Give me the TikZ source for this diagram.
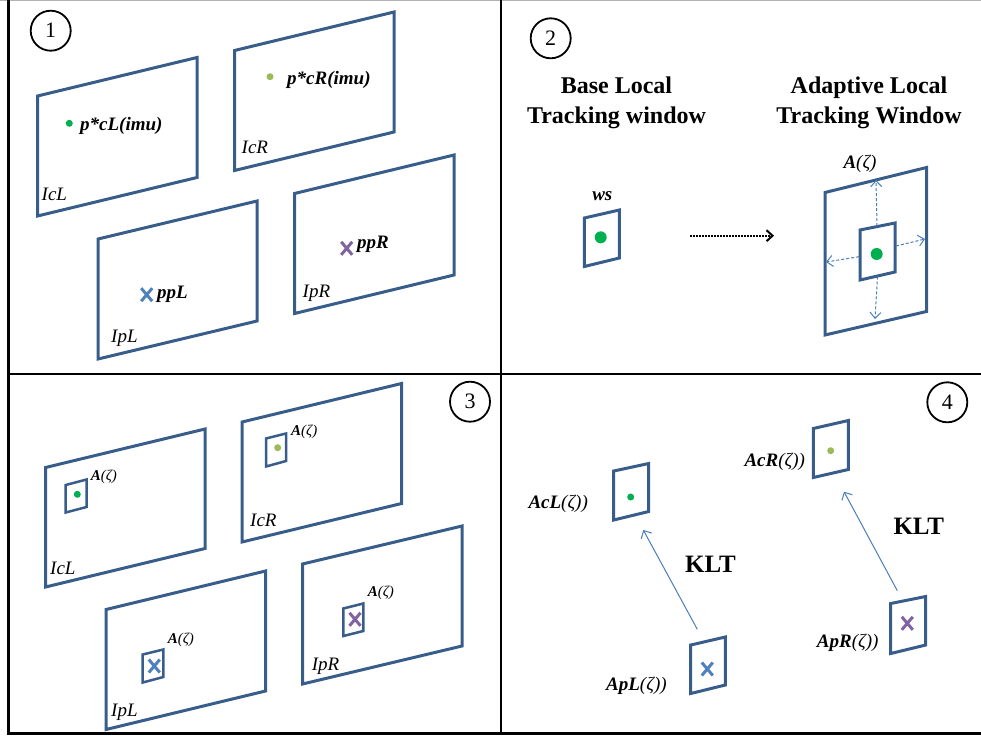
\documentclass[tikz,border=0pt]{standalone}
\usepackage{fontspec}
\setmainfont{Liberation Serif}
\usetikzlibrary{arrows.meta, shapes.misc}

\definecolor{framecol}{RGB}{56,93,138}
\definecolor{dotgreen}{RGB}{0,176,80}
\definecolor{dotlime}{RGB}{155,187,89}
\definecolor{crossblue}{RGB}{79,129,189}
\definecolor{crosspurple}{RGB}{128,100,162}
\definecolor{arrowblue}{RGB}{74,126,187}

\begin{document}
\begin{tikzpicture}[x=1pt,y=1pt]
\tikzstyle{every node}+=[inner sep=0pt]
\tikzstyle{frame}=[framecol, line width=3pt]
\tikzstyle{smallframe}=[framecol, line width=2.5pt]
\tikzstyle{panel}=[black, line width=2.8pt]
\tikzstyle{badge}=[circle, draw, line width=1.8pt, minimum size=40pt, font=\fontsize{22}{22}\selectfont]
\tikzstyle{imglbl}=[anchor=base west, font=\fontsize{19}{19}\selectfont\itshape]
\tikzstyle{ptlbl}=[anchor=base west, font=\fontsize{19}{19}\selectfont\bfseries\itshape]
\tikzstyle{winlbl}=[anchor=base west, font=\fontsize{15}{15}\selectfont\itshape]
\tikzstyle{patchlbl}=[anchor=base west, font=\fontsize{19}{19}\selectfont\itshape]
\tikzstyle{heading}=[align=center, font=\fontsize{24}{30}\selectfont\bfseries]
\tikzstyle{dot}=[circle, minimum size=7pt]
\tikzstyle{bigdot}=[circle, minimum size=12pt]
\tikzstyle{xmark}=[cross out, draw, line width=3pt, minimum width=8pt, minimum height=10pt]
\tikzstyle{growarrow}=[arrowblue, line width=1pt, dash pattern=on 3pt off 2pt, -{Straight Barb[length=6pt,width=11pt]}]
\tikzstyle{kltarrow}=[arrowblue, line width=1pt, -{Straight Barb[length=6pt,width=12pt]}]
\useasboundingbox (0,0) rectangle (981,-737);

% panel borders
\draw [gray!60, line width=1pt] (0,-0.5) -- (981,-0.5);
\draw [panel] (8.5,0) -- (8.5,-733.5) -- (981,-733.5);
\draw [panel] (501,0) -- (501,-733.5);
\draw [panel] (8.5,-374) -- (981,-374);

% panel 1
\node [badge] (num1) at (50.7,-30.7) {1};
\draw [frame] (37.5,-96) -- (197,-57.5) -- (197,-177.5) -- (37.5,-216) -- cycle;
\draw [frame] (234.5,-50.5) -- (394,-12) -- (394,-132) -- (234.5,-170.5) -- cycle;
\draw [frame] (98,-239) -- (257,-201) -- (257,-321) -- (98,-359) -- cycle;
\draw [frame] (294.5,-193.5) -- (454,-155) -- (454,-275) -- (294.5,-313.5) -- cycle;
\node [imglbl] (icl1) at (41.5,-200) {IcL};
\node [imglbl] (icr1) at (241.5,-153.5) {IcR};
\node [imglbl] (ipl1) at (111,-342.5) {IpL};
\node [imglbl] (ipr1) at (302.5,-297.5) {IpR};
\node [dot, fill=dotgreen] (pcl) at (69.3,-123.3) {};
\node [ptlbl] (pcllbl) at (80,-130) {p*cL(imu)};
\node [dot, fill=dotlime] (pcr) at (270,-76.7) {};
\node [ptlbl] (pcrlbl) at (287,-84) {p*cR(imu)};
\node [xmark, crossblue] (ppl) at (146.7,-294.7) {};
\node [ptlbl] (ppllbl) at (157,-298.3) {ppL};
\node [xmark, crosspurple] (ppr) at (346.7,-248.3) {};
\node [ptlbl] (pprlbl) at (357,-248.3) {ppR};

% panel 2
\node [badge] (num2) at (550.7,-38.3) {2};
\node [heading] (basehead) at (616.5,-103) {Base Local\\Tracking window};
\node [heading] (adapthead) at (869,-103) {Adaptive Local\\Tracking Window};
\draw [frame] (584.3,-218) -- (619.3,-210) -- (619.3,-258) -- (584.3,-266.5) -- cycle;
\node [ptlbl, anchor=base] (wslbl) at (602.3,-200) {ws};
\node [bigdot, fill=dotgreen] (basedot) at (600.7,-237.3) {};
\coordinate (growstart) at (690,-235.7);
\coordinate (growend) at (774,-235.7);
\draw [black, line width=2pt, dash pattern=on 1.5pt off 1.5pt, -{Straight Barb[length=6pt,width=11pt,line width=2pt]}] (growstart) -- (growend);
\draw [frame] (825,-192.5) -- (926.5,-167.5) -- (926.5,-311.5) -- (825,-335) -- cycle;
\draw [frame] (860,-230) -- (895,-223) -- (895,-272) -- (860,-280) -- cycle;
\node [ptlbl] (adaptlbl) at (843.3,-168.3) {A\mdseries(ζ)};
\node [bigdot, fill=dotgreen] (adaptdot) at (876.7,-254) {};
\coordinate (innertop) at (877,-226);
\coordinate (innerbot) at (877.5,-276.5);
\coordinate (innerleft) at (859,-256.7);
\coordinate (innerright) at (896,-246);
\coordinate (outertop) at (876,-180);
\coordinate (outerbot) at (875,-319);
\coordinate (outerleft) at (826,-262);
\coordinate (outerright) at (925,-239);
\draw [growarrow] (innertop) -- (outertop);
\draw [growarrow] (innerbot) -- (outerbot);
\draw [growarrow] (innerleft) -- (outerleft);
\draw [growarrow] (innerright) -- (outerright);

% panel 3
\node [badge] (num3) at (470,-401.7) {3};
\draw [frame] (45.5,-467.5) -- (205,-429) -- (205,-548.5) -- (45.5,-587) -- cycle;
\draw [frame] (242,-422) -- (401.5,-383.5) -- (401.5,-503.5) -- (242,-542) -- cycle;
\draw [frame] (106,-609.5) -- (265.5,-571) -- (265.5,-691) -- (106,-729.5) -- cycle;
\draw [frame] (302.5,-564) -- (462,-526) -- (462,-646) -- (302.5,-684) -- cycle;
\node [imglbl] (icl3) at (50,-574) {IcL};
\node [imglbl] (icr3) at (250,-526.7) {IcR};
\node [imglbl] (ipl3) at (111,-716.7) {IpL};
\node [imglbl] (ipr3) at (311.7,-670) {IpR};
\draw [smallframe] (65.7,-485) -- (86.5,-479.5) -- (86.5,-507) -- (65.7,-512.5) -- cycle;
\draw [smallframe] (266,-438.5) -- (286,-433.5) -- (286,-461) -- (266,-466.5) -- cycle;
\draw [smallframe] (142.7,-654.5) -- (163.3,-649.5) -- (163.3,-677) -- (142.7,-682.5) -- cycle;
\draw [smallframe] (343.3,-608.5) -- (363.3,-603.5) -- (363.3,-631) -- (343.3,-636) -- cycle;
\node [dot, fill=dotgreen] (wcl) at (77.3,-494.3) {};
\node [dot, fill=dotlime] (wcr) at (277.7,-447.7) {};
\node [xmark, crossblue] (wpl) at (154.3,-666) {};
\node [xmark, crosspurple] (wpr) at (355,-619.3) {};
\node [winlbl] (wcllbl) at (90.7,-480) {\textbf{A}(ζ)};
\node [winlbl] (wcrlbl) at (291,-435) {\textbf{A}(ζ)};
\node [winlbl] (wpllbl) at (167.7,-643.3) {\textbf{A}(ζ)};
\node [winlbl] (wprlbl) at (367.7,-596) {\textbf{A}(ζ)};

% panel 4
\node [badge] (num4) at (947.3,-402.3) {4};
\draw [frame] (613.7,-471) -- (648.7,-463.5) -- (648.7,-511.5) -- (613.7,-520) -- cycle;
\draw [frame] (813.3,-428.5) -- (848.3,-420.5) -- (848.3,-469.5) -- (813.3,-477.5) -- cycle;
\draw [frame] (690.7,-645) -- (725.3,-637) -- (725.3,-685) -- (690.7,-693.5) -- cycle;
\draw [frame] (890.7,-603.5) -- (925.7,-596.5) -- (925.7,-645) -- (890.7,-653.5) -- cycle;
\node [dot, fill=dotgreen] (acl) at (630.7,-497) {};
\node [dot, fill=dotlime] (acr) at (830.7,-450.7) {};
\node [xmark, crossblue] (apl) at (707.3,-669) {};
\node [xmark, crosspurple] (apr) at (907.3,-623.3) {};
\node [patchlbl] (acllbl) at (528.3,-508.3) {\textbf{AcL}(ζ))};
\node [patchlbl] (acrlbl) at (744.3,-466.7) {\textbf{AcR}(ζ))};
\node [patchlbl] (apllbl) at (606,-690.7) {\textbf{ApL}(ζ))};
\node [patchlbl] (aprlbl) at (816.7,-647.7) {\textbf{ApR}(ζ))};
\coordinate (kltls) at (697.3,-629.3);
\coordinate (kltle) at (643.3,-530);
\coordinate (kltrs) at (897.3,-590.7);
\coordinate (kltre) at (844,-491.7);
\draw [kltarrow] (kltls) -- (kltle);
\draw [kltarrow] (kltrs) -- (kltre);
\node [anchor=base west, font=\fontsize{25}{25}\selectfont\bfseries] (kltl) at (685,-572.7) {KLT};
\node [anchor=base west, font=\fontsize{25}{25}\selectfont\bfseries] (kltr) at (893.3,-534.3) {KLT};
\end{tikzpicture}
\end{document}
